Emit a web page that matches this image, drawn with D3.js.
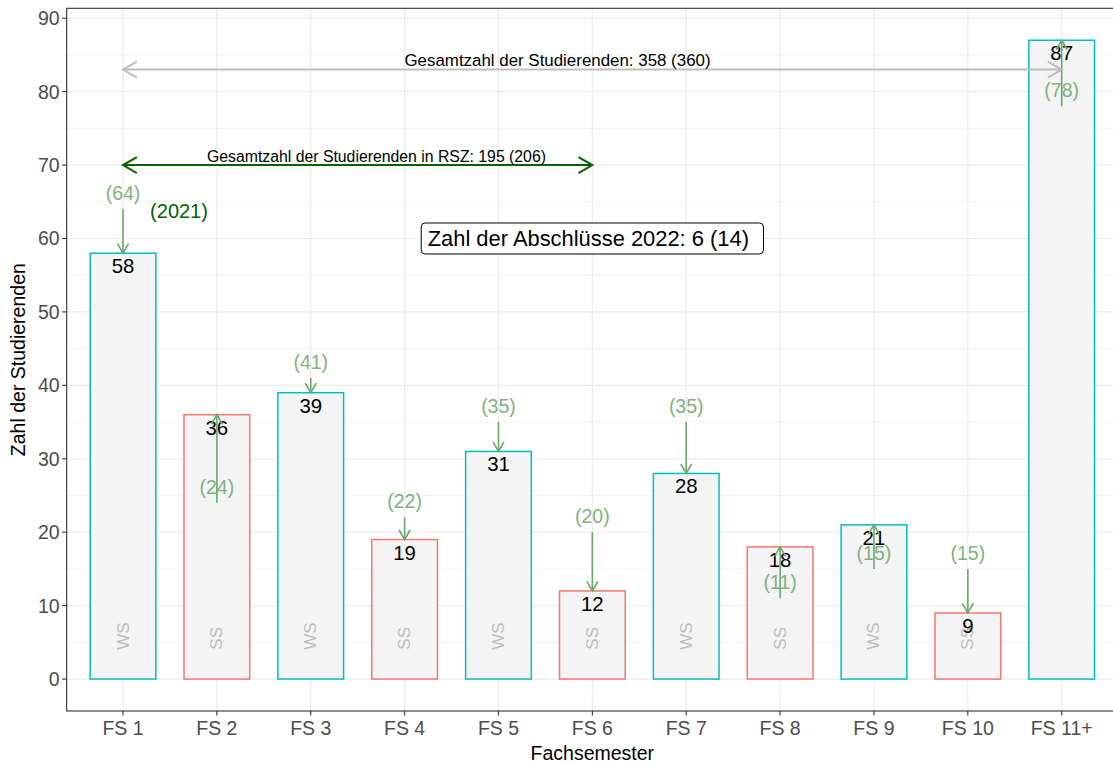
<!DOCTYPE html>
<html><head><meta charset="utf-8">
<script src="https://cdn.jsdelivr.net/npm/d3@7"></script>
<style>body{margin:0;background:#fff}svg{display:block}text{font-family:"Liberation Sans",Arial,Helvetica,sans-serif}</style>
</head><body><svg id="c" width="1113" height="765"></svg>
<script>
const categories = ["FS 1","FS 2","FS 3","FS 4","FS 5","FS 6","FS 7","FS 8","FS 9","FS 10","FS 11+"];
const values2022 = [58,36,39,19,31,12,28,18,21,9,87];
const values2021 = [64,24,41,22,35,20,35,11,15,15,78];
const semesterType = ["WS","SS","WS","SS","WS","SS","WS","SS","WS","SS","WS"];
const semesterLabel = ["WS","SS","WS","SS","WS","SS","WS","SS","WS","SS",""];
const yTicks = [0,10,20,30,40,50,60,70,80,90];
const totalText = "Gesamtzahl der Studierenden: 358 (360)";
const rszText = "Gesamtzahl der Studierenden in RSZ: 195 (206)";
const gradText = "Zahl der Abschlüsse 2022: 6 (14)";
const yearText = "(2021)";

(function(){
const svg = d3.select("#c");
const x = d3.scalePoint().domain(categories).range([123, 1061.7]);
const step = x.step();
const pL = x(categories[0]) - 0.6*step, pR = x(categories[categories.length-1]) + 0.6*step;
const pT = 8.3, pB = 711;
const y = d3.scaleLinear().domain([-4.35, 91.35]).range([pB, pT]);
const colors = {WS:"#00BFC4", SS:"#F8766D"};
const bw = 0.7*step;

const g = svg.append("g");
g.append("rect").attr("x",pL).attr("y",pT).attr("width",pR-pL).attr("height",pB-pT).attr("fill","#fff");
d3.range(5,91,10).forEach(v=>{
  g.append("line").attr("x1",pL).attr("x2",pR).attr("y1",y(v)).attr("y2",y(v)).attr("stroke","#EBEBEB").attr("stroke-width",0.6);
});
yTicks.forEach(v=>{
  g.append("line").attr("x1",pL).attr("x2",pR).attr("y1",y(v)).attr("y2",y(v)).attr("stroke","#EBEBEB").attr("stroke-width",1.2);
});
categories.forEach(c=>{
  g.append("line").attr("x1",x(c)).attr("x2",x(c)).attr("y1",pT).attr("y2",pB).attr("stroke","#EBEBEB").attr("stroke-width",1.2);
});

g.selectAll("rect.bar").data(categories).join("rect").attr("class","bar")
  .attr("x",c=>x(c)-bw/2).attr("width",bw)
  .attr("y",(c,i)=>y(values2022[i])).attr("height",(c,i)=>y(0)-y(values2022[i]))
  .attr("fill","#F4F4F4").attr("stroke",(c,i)=>colors[semesterType[i]]).attr("stroke-width",1.5);

categories.forEach((c,i)=>{
  if(!semesterLabel[i]) return;
  g.append("text").attr("transform",`translate(${x(c)},${y(4)}) rotate(-90)`)
   .attr("text-anchor","start").attr("dominant-baseline","central")
   .attr("font-size",17).attr("fill","#BEBEBE").text(semesterLabel[i]);
});

function chevron(x0,y0,x1,y1,len,ang){
  const a=Math.atan2(y1-y0,x1-x0);
  const p1=[x1-len*Math.cos(a-ang), y1-len*Math.sin(a-ang)];
  const p2=[x1-len*Math.cos(a+ang), y1-len*Math.sin(a+ang)];
  return `M${p1[0]},${p1[1]}L${x1},${y1}L${p2[0]},${p2[1]}`;
}

categories.forEach((c,i)=>{
  g.append("text").attr("x",x(c)).attr("y",y(values2022[i])+20).attr("text-anchor","middle")
   .attr("font-size",20.4).attr("fill","#000").text(values2022[i]);
});
categories.forEach((c,i)=>{
  g.append("text").attr("x",x(c)).attr("y",y(values2021[i]+2)+5.5).attr("text-anchor","middle")
   .attr("font-size",19.5).attr("fill","#80B280").text(`(${values2021[i]})`);
  const y0=y(values2021[i]), y1=y(values2022[i]);
  g.append("line").attr("x1",x(c)).attr("x2",x(c)).attr("y1",y0).attr("y2",y1).attr("stroke","#6AA86A").attr("stroke-width",1.6);
  g.append("path").attr("d",chevron(x(c),y0,x(c),y1,11,Math.PI/6)).attr("fill","none").attr("stroke","#6AA86A").attr("stroke-width",1.6);
});

const yT = y(83);
const xa = x(categories[0]), xb = x(categories[10]);
g.append("line").attr("x1",xa).attr("x2",xb).attr("y1",yT).attr("y2",yT).attr("stroke","#BEBEBE").attr("stroke-width",2);
g.append("path").attr("d",chevron(xb,yT,xa,yT,16,Math.PI/6)).attr("fill","none").attr("stroke","#BEBEBE").attr("stroke-width",2);
g.append("path").attr("d",chevron(xa,yT,xb,yT,16,Math.PI/6)).attr("fill","none").attr("stroke","#BEBEBE").attr("stroke-width",2);
g.append("text").attr("x",557.5).attr("y",yT-3.5).attr("text-anchor","middle").attr("font-size",16.9).attr("fill","#000").text(totalText);

const yR = y(70);
const xc = x(categories[5]);
g.append("line").attr("x1",xa).attr("x2",xc).attr("y1",yR).attr("y2",yR).attr("stroke","#006400").attr("stroke-width",2);
g.append("path").attr("d",chevron(xc,yR,xa,yR,16,Math.PI/6)).attr("fill","none").attr("stroke","#006400").attr("stroke-width",2);
g.append("path").attr("d",chevron(xa,yR,xc,yR,16,Math.PI/6)).attr("fill","none").attr("stroke","#006400").attr("stroke-width",2);
g.append("text").attr("x",376.5).attr("y",yR-3).attr("text-anchor","middle").attr("font-size",15.8).attr("fill","#000").text(rszText);

g.append("text").attr("x",179).attr("y",y(64)+8.5).attr("text-anchor","middle").attr("font-size",20).attr("fill","#006400").text(yearText);

const ly = y(60);
const box = g.append("rect");
const lt = g.append("text").attr("x",xc-4).attr("y",ly+7.8).attr("text-anchor","middle").attr("font-size",21.9).attr("fill","#000").text(gradText);
const bb = lt.node().getBBox();
const bwid = bb.width+21;
box.attr("x",xc-bwid/2).attr("y",ly-15.5).attr("width",bwid).attr("height",31).attr("rx",4).attr("fill","#fff").attr("stroke","#000").attr("stroke-width",1);

g.append("rect").attr("x",pL).attr("y",pT).attr("width",pR-pL).attr("height",pB-pT).attr("fill","none").attr("stroke","#333333").attr("stroke-width",1.1);

const ax = svg.append("g");
yTicks.forEach(v=>{
  ax.append("line").attr("x1",pL-4.5).attr("x2",pL).attr("y1",y(v)).attr("y2",y(v)).attr("stroke","#333333").attr("stroke-width",1.1);
  ax.append("text").attr("x",pL-7).attr("y",y(v)).attr("dominant-baseline","central").attr("text-anchor","end").attr("font-size",19.5).attr("fill","#4D4D4D").text(v);
});
categories.forEach(c=>{
  ax.append("line").attr("x1",x(c)).attr("x2",x(c)).attr("y1",pB).attr("y2",pB+4.5).attr("stroke","#333333").attr("stroke-width",1.1);
  ax.append("text").attr("x",x(c)).attr("y",pB+23.5).attr("text-anchor","middle").attr("font-size",19.5).attr("fill","#4D4D4D").text(c);
});
svg.append("text").attr("x",(pL+pR)/2).attr("y",760).attr("text-anchor","middle").attr("font-size",19.5).attr("fill","#000").text("Fachsemester");
svg.append("text").attr("transform",`translate(25,${(pT+pB)/2}) rotate(-90)`).attr("text-anchor","middle").attr("font-size",19.5).attr("fill","#000").text("Zahl der Studierenden");
})();
</script></body></html>
